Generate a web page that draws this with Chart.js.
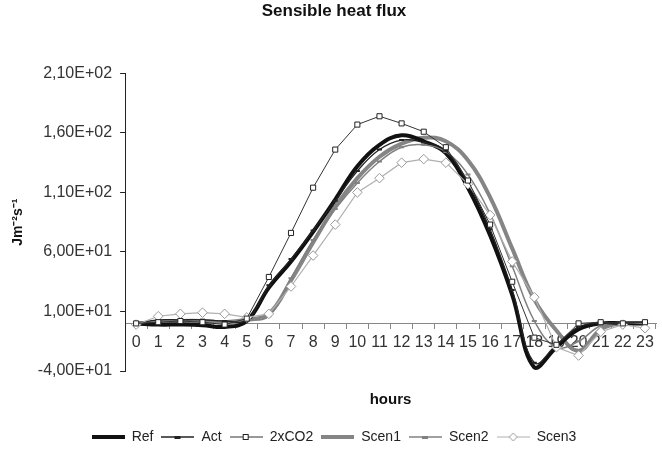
<!DOCTYPE html>
<html>
<head>
<meta charset="utf-8">
<script src="https://cdn.jsdelivr.net/npm/chart.js@4"></script>
<style>
  html, body { margin: 0; padding: 0; background: #fff; }
</style>
</head>
<body>
<canvas id="fluxChart" width="662" height="454"></canvas>
<script>
// hourly sensible heat flux, J m-2 s-1
var hours = ['0','1','2','3','4','5','6','7','8','9','10','11','12','13','14','15','16','17','18','19','20','21','22','23'];
var yTicks = [-40, 10, 60, 110, 160, 210];

var ref    = [0, -1, -1, -1.5, -3, 2, 30, 52, 77, 104, 132, 150, 158, 153, 143, 114, 74, 24, -37, -20, -5, 0, 0, 0];
var act    = [0, 3, 3, 3, 2, 3, 32, 54, 78, 103, 128, 146, 154, 152, 145, 118, 79, 28, -33, -18, -3, 0, 0, 1];
var co2x2  = [0, 1, 2, 1, -1, 4, 39, 76, 114, 146, 167, 174, 168, 161, 148, 120, 83, 35, -12, -18, 0, 1, 0, 1];
var scen1  = [0, 1, 2, 2, 1, 3, 8, 36, 68, 98, 122, 140, 151, 156, 153, 137, 106, 63, 20, -6, -23, -5, 0, 0];
var scen2  = [0, 2, 3, 3, 2, 3, 6, 38, 70, 96, 118, 136, 148, 150, 144, 125, 92, 48, 2, -20, -15, -2, 0, 0];
var scen3  = [-1, 6, 8, 9, 8, 5, 8, 31, 57, 83, 110, 122, 135, 138, 135, 117, 91, 52, 22, -20, -27, -7, -1, -4];

var FONT = "'Liberation Sans', Arial, sans-serif";

// Excel style number format: 2,10E+02
function sci(v) {
    if (v === 0) return '0,00E+00';
    var e = Math.floor(Math.log10(Math.abs(v)));
    var m = v / Math.pow(10, e);
    var exp = (e < 0 ? '-' : '+') + String(Math.abs(e)).padStart(2, '0');
    return m.toFixed(2).replace('.', ',') + 'E' + exp;
}

// small line + marker pictures used in the legend
function sample(color, width, marker, markerColor) {
    var c = document.createElement('canvas');
    c.width = 33; c.height = 10;
    var ctx = c.getContext('2d');
    ctx.strokeStyle = color;
    ctx.lineWidth = width;
    ctx.beginPath();
    ctx.moveTo(0, 5); ctx.lineTo(33, 5);
    ctx.stroke();
    ctx.lineWidth = 1;
    ctx.strokeStyle = markerColor || color;
    ctx.fillStyle = '#fff';
    if (marker === 'rect') {
        ctx.fillRect(13, 2, 6, 6);
        ctx.strokeRect(13.5, 2.5, 5, 5);
    } else if (marker === 'diamond') {
        ctx.beginPath();
        ctx.moveTo(16.5, 1); ctx.lineTo(20.5, 5); ctx.lineTo(16.5, 9); ctx.lineTo(12.5, 5); ctx.closePath();
        ctx.fill(); ctx.stroke();
    } else if (marker === 'dash') {
        ctx.fillStyle = color;
        ctx.fillRect(13, 4, 6, 3);
    }
    return c;
}

var legendPics = [
    sample('#111', 4),
    sample('#222', 1.5, 'dash'),
    sample('#333', 1, 'rect', '#222'),
    sample('#858585', 4),
    sample('#808080', 1.5, 'dash'),
    sample('#b0b0b0', 1.2, 'diamond', '#999')
];

var data = {
    labels: hours,
    datasets: [
        { label: 'Ref', data: ref, borderColor: '#111', borderWidth: 4, tension: 0.4, pointRadius: 0, order: 5 },
        { label: 'Act', data: act, borderColor: '#222', borderWidth: 1.3, tension: 0.4,
          pointStyle: 'line', pointRadius: 2.5, pointBorderWidth: 2, pointBorderColor: '#222', order: 3 },
        { label: '2xCO2', data: co2x2, borderColor: '#333', borderWidth: 1, tension: 0,
          pointStyle: 'rect', pointRadius: 3.6, pointBackgroundColor: '#fff', pointBorderColor: '#222', pointBorderWidth: 1, order: 1 },
        { label: 'Scen1', data: scen1, borderColor: '#858585', borderWidth: 4, tension: 0.4, pointRadius: 0, order: 6 },
        { label: 'Scen2', data: scen2, borderColor: '#808080', borderWidth: 1.5, tension: 0.4,
          pointStyle: 'line', pointRadius: 2.5, pointBorderWidth: 2, pointBorderColor: '#808080', order: 4 },
        { label: 'Scen3', data: scen3, borderColor: '#b0b0b0', borderWidth: 1.2, tension: 0,
          pointStyle: 'rectRot', pointRadius: 4.8, pointBackgroundColor: '#fff', pointBorderColor: '#999', pointBorderWidth: 1, order: 2 }
    ]
};

var config = {
    type: 'line',
    data: data,
    options: {
        responsive: false,
        animation: false,
        layout: { padding: { left: 6, right: 0, top: 0, bottom: 0 } },
        plugins: {
            tooltip: { enabled: false },
            title: {
                display: true,
                text: 'Sensible heat flux',
                color: '#111',
                font: { family: FONT, size: 17, weight: 'bold' },
                padding: { top: 1, bottom: 52 }
            },
            subtitle: {
                display: true,
                text: 'hours',
                position: 'bottom',
                fullSize: false,
                weight: 500,
                color: '#111',
                font: { family: FONT, size: 15, weight: 'bold' },
                padding: { top: 20, bottom: 13 }
            },
            legend: {
                position: 'bottom',
                labels: {
                    font: { family: FONT, size: 14 },
                    color: '#222',
                    usePointStyle: true,
                    pointStyleWidth: 33,
                    padding: 8,
                    sort: function (a, b) { return a.datasetIndex - b.datasetIndex; },
                    generateLabels: function (chart) {
                        var items = Chart.defaults.plugins.legend.labels.generateLabels(chart);
                        items.forEach(function (it) { it.pointStyle = legendPics[it.datasetIndex]; });
                        return items;
                    }
                }
            }
        },
        scales: {
            x: {
                position: { y: 0 },
                offset: true,
                grid: { offset: true, drawOnChartArea: false, tickLength: 5, color: '#888' },
                border: { color: '#888' },
                ticks: { font: { family: FONT, size: 16 }, color: '#333', padding: 5, maxRotation: 0, autoSkip: false }
            },
            y: {
                min: yTicks[0],
                max: yTicks[yTicks.length - 1],
                ticks: { stepSize: 50, callback: sci, font: { family: FONT, size: 16 }, color: '#333', padding: 8 },
                grid: { drawOnChartArea: false, tickLength: 5, color: '#222' },
                border: { color: '#222' },
                title: {
                    display: true,
                    text: 'Jm⁻²s⁻¹',
                    color: '#111',
                    font: { family: FONT, size: 14, weight: 'bold' },
                    padding: { top: 4, bottom: 3 }
                }
            }
        }
    }
};

var fluxChart = new Chart(document.getElementById('fluxChart'), config);
</script>
</body>
</html>
